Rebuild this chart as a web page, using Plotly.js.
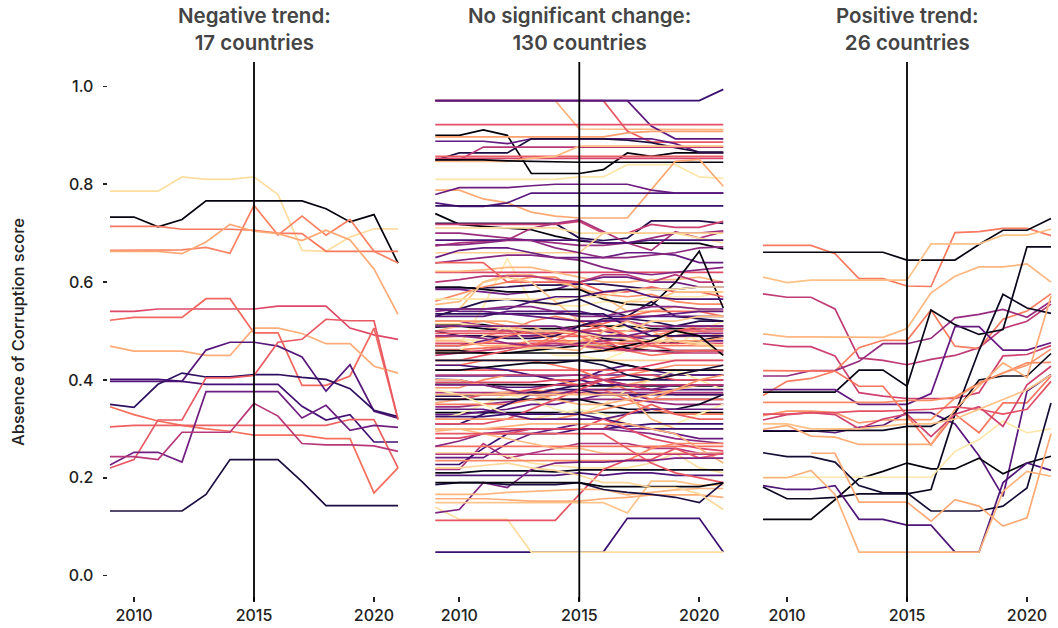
<!DOCTYPE html>
<html><head><meta charset="utf-8">
<script src="https://cdn.plot.ly/plotly-3.0.1.min.js"></script>
<style>html,body{margin:0;padding:0;background:#fff}#chart{width:1058px;height:628px}</style>
</head><body><div id="chart"></div>
<script>
const years = [2009,2010,2011,2012,2013,2014,2015,2016,2017,2018,2019,2020,2021];
const panelTitles = ['Negative trend:<br>17 countries','No significant change:<br>130 countries','Positive trend:<br>26 countries'];
const yAxisTitle = 'Absence of Corruption score';
const yTickValues = [0,0.2,0.4,0.6,0.8,1.0];
const yTickLabels = ['0.0','0.2','0.4','0.6','0.8','1.0'];
const xTickValues = [2010,2015,2020];
const breakYear = 2015;

// ---- Negative trend (17 countries)
const negativeSeries = [
[0.786,0.786,0.786,0.815,0.810,0.810,0.815,0.779,0.665,0.663,0.692,0.709,0.709],
[0.733,0.733,0.713,0.728,0.766,0.766,0.766,0.766,0.766,0.750,0.723,0.738,0.639],
[0.714,0.714,0.714,0.708,0.708,0.708,0.706,0.700,0.699,0.663,0.663,0.663,0.663],
[0.665,0.665,0.665,0.666,0.671,0.659,0.757,0.696,0.735,0.696,0.728,0.663,0.639],
[0.663,0.663,0.663,0.658,0.682,0.718,0.704,0.699,0.685,0.706,0.686,0.627,0.534],
[0.540,0.540,0.545,0.545,0.545,0.545,0.545,0.551,0.551,0.551,0.506,0.492,0.483],
[0.522,0.528,0.528,0.528,0.566,0.566,0.496,0.496,0.389,0.389,0.408,0.506,0.319],
[0.469,0.459,0.459,0.459,0.450,0.450,0.506,0.506,0.495,0.474,0.474,0.428,0.414],
[0.397,0.397,0.397,0.397,0.461,0.477,0.477,0.469,0.447,0.377,0.431,0.336,0.322],
[0.350,0.344,0.391,0.414,0.406,0.406,0.411,0.411,0.405,0.401,0.382,0.338,0.325],
[0.401,0.401,0.401,0.397,0.391,0.391,0.391,0.391,0.346,0.318,0.329,0.273,0.273],
[0.345,0.329,0.316,0.307,0.300,0.295,0.287,0.287,0.287,0.280,0.280,0.169,0.220],
[0.304,0.307,0.307,0.307,0.307,0.307,0.307,0.307,0.307,0.307,0.319,0.319,0.220],
[0.220,0.237,0.318,0.318,0.404,0.404,0.409,0.477,0.483,0.524,0.521,0.521,0.319],
[0.226,0.252,0.252,0.232,0.376,0.376,0.376,0.376,0.322,0.348,0.297,0.307,0.303],
[0.243,0.243,0.237,0.293,0.293,0.293,0.352,0.326,0.270,0.267,0.267,0.265,0.254],
[0.132,0.132,0.132,0.132,0.166,0.237,0.237,0.237,0.192,0.143,0.143,0.143,0.143]
];
const negativeShades = [0.93,0.02,0.72,0.74,0.82,0.60,0.68,0.83,0.27,0.17,0.22,0.70,0.66,0.64,0.33,0.50,0.12];

// ---- No significant change (130 countries), split by level band
const stableTop = [
[0.971,0.971,0.971,0.971,0.971,0.971,0.913,0.913,0.913,0.912,0.912,0.912,0.912],
[0.971,0.971,0.971,0.971,0.971,0.971,0.971,0.971,0.909,0.886,0.886,0.886,0.886],
[0.971,0.971,0.971,0.971,0.971,0.971,0.971,0.971,0.971,0.971,0.971,0.971,0.994],
[0.971,0.971,0.971,0.971,0.971,0.971,0.971,0.971,0.971,0.919,0.893,0.893,0.893],
[0.922,0.922,0.922,0.922,0.922,0.922,0.922,0.922,0.922,0.922,0.922,0.922,0.922],
[0.900,0.900,0.911,0.900,0.822,0.822,0.822,0.830,0.864,0.857,0.864,0.864,0.864],
[0.897,0.897,0.897,0.897,0.897,0.897,0.897,0.897,0.905,0.908,0.908,0.908,0.908],
[0.888,0.888,0.888,0.883,0.893,0.893,0.893,0.893,0.893,0.893,0.883,0.865,0.865],
[0.849,0.864,0.864,0.864,0.893,0.893,0.893,0.893,0.890,0.885,0.875,0.866,0.866],
[0.850,0.850,0.876,0.876,0.876,0.876,0.876,0.876,0.876,0.876,0.876,0.876,0.876],
[0.857,0.857,0.857,0.857,0.857,0.857,0.857,0.857,0.857,0.857,0.857,0.857,0.857],
[0.853,0.853,0.853,0.853,0.853,0.853,0.853,0.853,0.853,0.853,0.853,0.853,0.853],
[0.847,0.847,0.847,0.847,0.853,0.857,0.878,0.878,0.878,0.878,0.878,0.878,0.878],
[0.850,0.850,0.850,0.848,0.847,0.845,0.845,0.845,0.845,0.845,0.845,0.845,0.845]
];
const stableTopShades = [0.84,0.64,0.20,0.28,0.62,0.01,0.80,0.30,0.12,0.50,0.65,0.58,0.86,0.02];

const stableUpper = [
[0.810,0.810,0.810,0.810,0.810,0.810,0.815,0.815,0.840,0.840,0.840,0.815,0.812],
[0.788,0.788,0.770,0.762,0.743,0.735,0.731,0.731,0.731,0.789,0.847,0.851,0.796],
[0.779,0.793,0.793,0.793,0.797,0.800,0.800,0.800,0.800,0.788,0.782,0.782,0.782],
[0.762,0.755,0.755,0.762,0.782,0.782,0.782,0.782,0.782,0.782,0.782,0.782,0.782],
[0.756,0.756,0.756,0.756,0.756,0.756,0.756,0.756,0.756,0.756,0.756,0.756,0.756],
[0.740,0.718,0.714,0.711,0.707,0.694,0.684,0.680,0.680,0.679,0.679,0.679,0.668],
[0.720,0.720,0.720,0.720,0.720,0.720,0.690,0.685,0.690,0.725,0.725,0.725,0.720],
[0.718,0.718,0.718,0.718,0.718,0.718,0.724,0.700,0.700,0.718,0.712,0.712,0.724],
[0.674,0.680,0.683,0.686,0.710,0.720,0.727,0.703,0.680,0.665,0.703,0.690,0.703],
[0.711,0.711,0.711,0.711,0.711,0.711,0.700,0.700,0.700,0.700,0.700,0.690,0.680],
[0.700,0.700,0.695,0.690,0.685,0.680,0.675,0.675,0.680,0.690,0.700,0.700,0.705],
[0.686,0.686,0.686,0.686,0.686,0.686,0.686,0.680,0.680,0.686,0.686,0.686,0.686],
[0.660,0.660,0.660,0.660,0.660,0.660,0.660,0.700,0.700,0.700,0.700,0.700,0.700],
[0.650,0.665,0.670,0.670,0.660,0.650,0.650,0.650,0.660,0.660,0.655,0.640,0.640],
[0.676,0.676,0.680,0.685,0.685,0.670,0.660,0.650,0.650,0.655,0.660,0.670,0.672]
];
const stableUpperShades = [0.95,0.82,0.32,0.26,0.18,0.02,0.14,0.55,0.47,0.93,0.43,0.24,0.90,0.30,0.40];

const stableMiddle = [
[0.470,0.470,0.550,0.648,0.558,0.553,0.551,0.560,0.560,0.570,0.570,0.570,0.580],
[0.620,0.620,0.620,0.620,0.620,0.620,0.620,0.620,0.620,0.620,0.620,0.620,0.620],
[0.622,0.622,0.625,0.630,0.630,0.620,0.610,0.600,0.600,0.605,0.605,0.610,0.600],
[0.588,0.588,0.588,0.590,0.594,0.594,0.596,0.596,0.590,0.585,0.585,0.590,0.590],
[0.585,0.585,0.580,0.575,0.580,0.585,0.600,0.610,0.610,0.600,0.600,0.590,0.590],
[0.561,0.575,0.590,0.600,0.610,0.610,0.585,0.575,0.570,0.575,0.560,0.555,0.555],
[0.554,0.560,0.600,0.615,0.615,0.600,0.590,0.570,0.540,0.540,0.550,0.545,0.540],
[0.639,0.645,0.650,0.655,0.655,0.650,0.645,0.630,0.620,0.615,0.620,0.625,0.630],
[0.590,0.590,0.585,0.580,0.580,0.585,0.585,0.565,0.555,0.552,0.599,0.663,0.547],
[0.600,0.605,0.612,0.612,0.612,0.605,0.600,0.615,0.615,0.600,0.615,0.600,0.600],
[0.640,0.640,0.640,0.600,0.600,0.600,0.600,0.580,0.580,0.590,0.580,0.580,0.570],
[0.530,0.545,0.600,0.610,0.600,0.560,0.520,0.520,0.560,0.560,0.580,0.580,0.580],
[0.530,0.545,0.560,0.565,0.560,0.555,0.565,0.545,0.530,0.560,0.530,0.525,0.520],
[0.565,0.565,0.565,0.565,0.565,0.565,0.570,0.570,0.585,0.585,0.585,0.590,0.590],
[0.545,0.545,0.545,0.545,0.560,0.570,0.570,0.580,0.585,0.570,0.565,0.565,0.565]
];
const stableMiddleShades = [0.96,0.60,0.85,0.15,0.32,0.76,0.86,0.38,0.03,0.50,0.67,0.88,0.13,0.94,0.24];

const stableCentre = [
[0.513,0.513,0.513,0.505,0.505,0.505,0.510,0.510,0.510,0.505,0.505,0.505,0.505],
[0.508,0.510,0.505,0.500,0.495,0.495,0.500,0.485,0.480,0.480,0.475,0.480,0.490],
[0.530,0.530,0.530,0.540,0.540,0.540,0.540,0.530,0.530,0.530,0.530,0.530,0.530],
[0.489,0.489,0.489,0.489,0.489,0.489,0.489,0.489,0.489,0.489,0.489,0.489,0.489],
[0.486,0.490,0.490,0.500,0.520,0.530,0.520,0.500,0.490,0.490,0.500,0.510,0.510],
[0.483,0.483,0.480,0.470,0.460,0.470,0.480,0.500,0.510,0.490,0.470,0.500,0.520],
[0.475,0.475,0.475,0.475,0.475,0.475,0.475,0.475,0.475,0.475,0.475,0.475,0.475],
[0.470,0.470,0.480,0.490,0.490,0.495,0.500,0.500,0.490,0.480,0.480,0.480,0.480],
[0.462,0.462,0.465,0.470,0.470,0.490,0.510,0.515,0.530,0.540,0.540,0.540,0.530],
[0.500,0.510,0.520,0.520,0.510,0.490,0.470,0.460,0.460,0.470,0.490,0.500,0.490],
[0.520,0.520,0.510,0.500,0.500,0.500,0.510,0.520,0.520,0.510,0.510,0.510,0.510],
[0.500,0.490,0.490,0.485,0.485,0.490,0.510,0.525,0.525,0.520,0.510,0.520,0.520],
[0.455,0.455,0.460,0.470,0.480,0.480,0.480,0.480,0.470,0.470,0.470,0.470,0.470],
[0.450,0.460,0.490,0.510,0.470,0.450,0.450,0.440,0.460,0.480,0.500,0.480,0.450],
[0.540,0.545,0.545,0.550,0.550,0.540,0.530,0.530,0.540,0.550,0.550,0.545,0.545],
[0.495,0.495,0.495,0.495,0.495,0.495,0.500,0.500,0.500,0.500,0.500,0.500,0.500],
[0.460,0.460,0.460,0.465,0.470,0.470,0.480,0.490,0.500,0.520,0.520,0.530,0.530],
[0.460,0.460,0.455,0.455,0.460,0.465,0.470,0.470,0.465,0.460,0.460,0.460,0.460],
[0.490,0.490,0.485,0.475,0.470,0.470,0.475,0.480,0.485,0.490,0.490,0.495,0.495],
[0.470,0.470,0.475,0.490,0.500,0.500,0.490,0.470,0.460,0.450,0.455,0.460,0.460],
[0.535,0.535,0.535,0.535,0.535,0.535,0.535,0.535,0.510,0.490,0.490,0.490,0.490],
[0.520,0.520,0.520,0.510,0.500,0.480,0.470,0.470,0.480,0.480,0.480,0.480,0.485],
[0.500,0.500,0.500,0.500,0.500,0.500,0.500,0.480,0.460,0.480,0.500,0.505,0.505],
[0.515,0.515,0.510,0.505,0.500,0.500,0.495,0.490,0.485,0.480,0.480,0.475,0.470],
[0.450,0.455,0.460,0.465,0.470,0.475,0.470,0.465,0.460,0.460,0.455,0.455,0.455],
[0.545,0.540,0.540,0.535,0.530,0.525,0.520,0.520,0.525,0.530,0.535,0.540,0.540],
[0.480,0.480,0.470,0.470,0.465,0.465,0.460,0.500,0.520,0.500,0.480,0.470,0.470],
[0.455,0.455,0.455,0.455,0.455,0.455,0.455,0.460,0.470,0.480,0.500,0.490,0.450],
[0.440,0.440,0.450,0.460,0.470,0.480,0.500,0.510,0.490,0.470,0.460,0.460,0.460],
[0.510,0.510,0.510,0.510,0.510,0.510,0.500,0.490,0.490,0.500,0.510,0.510,0.510]
];
const stableCentreShades = [0.02,0.05,0.28,0.66,0.74,0.95,0.60,0.30,0.70,0.84,0.45,0.14,0.72,0.97,0.38,0.63,0.88,0.04,0.40,0.71,0.17,0.79,0.61,0.93,0.52,0.30,0.85,0.01,0.64,0.35];

const stableLower = [
[0.408,0.408,0.408,0.408,0.408,0.408,0.410,0.410,0.410,0.410,0.410,0.410,0.410],
[0.401,0.400,0.390,0.385,0.385,0.390,0.400,0.420,0.430,0.420,0.410,0.410,0.410],
[0.391,0.391,0.390,0.390,0.390,0.390,0.388,0.388,0.388,0.388,0.388,0.388,0.388],
[0.384,0.384,0.400,0.410,0.410,0.400,0.390,0.400,0.410,0.420,0.430,0.430,0.430],
[0.374,0.374,0.374,0.374,0.374,0.374,0.374,0.374,0.374,0.374,0.374,0.374,0.374],
[0.367,0.367,0.370,0.370,0.375,0.380,0.390,0.400,0.400,0.400,0.400,0.400,0.400],
[0.353,0.360,0.370,0.375,0.380,0.375,0.370,0.380,0.390,0.400,0.410,0.420,0.420],
[0.333,0.333,0.333,0.333,0.333,0.333,0.333,0.333,0.333,0.333,0.333,0.333,0.333],
[0.329,0.329,0.335,0.340,0.350,0.350,0.360,0.370,0.370,0.360,0.360,0.360,0.360],
[0.319,0.330,0.350,0.370,0.360,0.340,0.330,0.350,0.380,0.400,0.420,0.400,0.380],
[0.420,0.420,0.420,0.420,0.420,0.420,0.420,0.420,0.420,0.420,0.420,0.420,0.420],
[0.430,0.430,0.440,0.440,0.440,0.430,0.420,0.400,0.380,0.360,0.360,0.360,0.360],
[0.440,0.440,0.440,0.440,0.440,0.440,0.440,0.440,0.440,0.440,0.440,0.440,0.440],
[0.430,0.430,0.425,0.420,0.410,0.400,0.400,0.390,0.390,0.380,0.380,0.380,0.380],
[0.360,0.360,0.370,0.370,0.380,0.390,0.390,0.400,0.390,0.380,0.370,0.370,0.370],
[0.345,0.345,0.350,0.355,0.360,0.360,0.360,0.360,0.360,0.355,0.350,0.350,0.350],
[0.360,0.360,0.360,0.360,0.360,0.360,0.360,0.350,0.340,0.340,0.340,0.350,0.370],
[0.350,0.350,0.350,0.350,0.360,0.370,0.380,0.380,0.360,0.340,0.330,0.330,0.330],
[0.310,0.310,0.330,0.350,0.370,0.380,0.380,0.370,0.370,0.370,0.370,0.370,0.370],
[0.400,0.400,0.390,0.380,0.370,0.360,0.350,0.350,0.360,0.370,0.380,0.390,0.390],
[0.390,0.390,0.390,0.380,0.370,0.370,0.380,0.380,0.380,0.380,0.390,0.390,0.390],
[0.310,0.310,0.310,0.320,0.340,0.360,0.380,0.400,0.410,0.410,0.400,0.400,0.400],
[0.380,0.370,0.350,0.330,0.320,0.330,0.340,0.330,0.310,0.300,0.310,0.330,0.350],
[0.410,0.410,0.410,0.410,0.410,0.410,0.410,0.400,0.390,0.390,0.390,0.390,0.390],
[0.320,0.320,0.320,0.320,0.320,0.320,0.330,0.340,0.350,0.360,0.380,0.400,0.410],
[0.340,0.340,0.340,0.330,0.320,0.320,0.320,0.320,0.330,0.340,0.340,0.340,0.340],
[0.420,0.420,0.425,0.430,0.435,0.435,0.440,0.440,0.430,0.420,0.420,0.420,0.420],
[0.370,0.370,0.370,0.370,0.370,0.370,0.370,0.370,0.370,0.320,0.300,0.300,0.300],
[0.300,0.300,0.300,0.300,0.300,0.300,0.300,0.300,0.330,0.350,0.330,0.320,0.320],
[0.440,0.440,0.440,0.440,0.440,0.440,0.440,0.430,0.410,0.400,0.410,0.420,0.430],
[0.395,0.395,0.395,0.395,0.395,0.400,0.400,0.410,0.420,0.430,0.440,0.440,0.440],
[0.325,0.325,0.325,0.330,0.330,0.330,0.330,0.320,0.310,0.300,0.300,0.300,0.300]
];
const stableLowerShades = [0.27,0.25,0.03,0.77,0.47,0.16,0.83,0.02,0.30,0.96,0.65,0.71,0.90,0.24,0.58,0.42,0.06,0.72,0.18,0.85,0.35,0.62,0.97,0.50,0.78,0.29,0.04,0.86,0.66,0.10,0.60,0.20];

const stableBottom = [
[0.217,0.217,0.270,0.240,0.250,0.260,0.270,0.270,0.270,0.260,0.260,0.250,0.250],
[0.241,0.241,0.241,0.270,0.290,0.300,0.310,0.310,0.300,0.300,0.290,0.280,0.280],
[0.227,0.227,0.260,0.290,0.290,0.290,0.300,0.300,0.305,0.310,0.310,0.310,0.310],
[0.251,0.251,0.251,0.245,0.230,0.225,0.220,0.220,0.220,0.230,0.250,0.220,0.210],
[0.264,0.264,0.264,0.264,0.264,0.264,0.264,0.264,0.264,0.264,0.264,0.264,0.264],
[0.264,0.275,0.290,0.295,0.300,0.300,0.300,0.300,0.295,0.290,0.280,0.275,0.270],
[0.281,0.281,0.290,0.290,0.300,0.300,0.300,0.320,0.300,0.280,0.270,0.260,0.255],
[0.295,0.300,0.300,0.305,0.310,0.310,0.310,0.310,0.310,0.300,0.290,0.260,0.230],
[0.210,0.210,0.214,0.214,0.214,0.212,0.216,0.216,0.216,0.216,0.216,0.216,0.216],
[0.205,0.205,0.205,0.205,0.205,0.205,0.210,0.205,0.210,0.210,0.205,0.205,0.205],
[0.235,0.235,0.235,0.235,0.235,0.235,0.235,0.235,0.235,0.260,0.270,0.270,0.270],
[0.300,0.300,0.290,0.280,0.270,0.260,0.260,0.250,0.250,0.250,0.250,0.250,0.250],
[0.248,0.248,0.248,0.248,0.248,0.248,0.248,0.248,0.248,0.248,0.248,0.248,0.248],
[0.290,0.290,0.290,0.290,0.290,0.290,0.290,0.290,0.260,0.230,0.210,0.200,0.190],
[0.048,0.048,0.048,0.048,0.048,0.048,0.048,0.048,0.117,0.117,0.117,0.117,0.048],
[0.140,0.115,0.115,0.115,0.048,0.048,0.048,0.048,0.048,0.048,0.048,0.048,0.048],
[0.113,0.113,0.113,0.113,0.113,0.113,0.166,0.217,0.237,0.237,0.260,0.240,0.250],
[0.128,0.135,0.190,0.180,0.217,0.230,0.232,0.232,0.235,0.235,0.240,0.240,0.240],
[0.166,0.166,0.166,0.170,0.172,0.174,0.176,0.176,0.165,0.170,0.175,0.178,0.178],
[0.149,0.149,0.149,0.149,0.149,0.149,0.149,0.149,0.128,0.193,0.193,0.185,0.185],
[0.157,0.157,0.157,0.155,0.152,0.152,0.152,0.157,0.160,0.165,0.165,0.165,0.160],
[0.186,0.190,0.190,0.186,0.186,0.186,0.190,0.176,0.170,0.166,0.160,0.149,0.190],
[0.190,0.190,0.190,0.190,0.190,0.190,0.190,0.182,0.182,0.182,0.182,0.182,0.190],
[0.220,0.220,0.225,0.230,0.220,0.215,0.205,0.190,0.190,0.180,0.180,0.167,0.135]
];
const stableBottomShades = [0.48,0.30,0.20,0.94,0.70,0.40,0.60,0.84,0.04,0.25,0.75,0.86,0.50,0.64,0.20,0.93,0.63,0.36,0.85,0.88,0.83,0.12,0.02,0.92];

// ---- Positive trend (26 countries)
const positiveSeries = [
[0.675,0.675,0.675,0.658,0.607,0.607,0.592,0.591,0.701,0.703,0.710,0.710,0.695],
[0.661,0.661,0.661,0.661,0.661,0.661,0.645,0.645,0.645,0.677,0.706,0.706,0.730],
[0.610,0.599,0.604,0.604,0.604,0.604,0.604,0.678,0.678,0.678,0.696,0.696,0.708],
[0.576,0.569,0.569,0.545,0.445,0.440,0.431,0.442,0.450,0.466,0.505,0.520,0.555],
[0.494,0.488,0.488,0.488,0.487,0.487,0.505,0.578,0.612,0.631,0.631,0.637,0.600],
[0.474,0.468,0.468,0.449,0.374,0.367,0.362,0.362,0.362,0.374,0.449,0.452,0.470],
[0.368,0.397,0.403,0.418,0.466,0.481,0.481,0.543,0.469,0.464,0.524,0.541,0.576],
[0.408,0.408,0.419,0.419,0.438,0.474,0.474,0.485,0.527,0.534,0.544,0.528,0.561],
[0.375,0.375,0.375,0.375,0.420,0.420,0.387,0.543,0.513,0.493,0.503,0.672,0.672],
[0.380,0.380,0.380,0.380,0.350,0.350,0.350,0.372,0.509,0.509,0.461,0.461,0.476],
[0.419,0.419,0.419,0.418,0.387,0.387,0.327,0.267,0.330,0.292,0.353,0.353,0.408],
[0.354,0.354,0.354,0.354,0.354,0.354,0.358,0.358,0.365,0.394,0.414,0.435,0.436],
[0.296,0.296,0.296,0.292,0.303,0.307,0.333,0.333,0.310,0.245,0.162,0.377,0.411],
[0.295,0.295,0.295,0.297,0.297,0.297,0.305,0.305,0.333,0.400,0.408,0.408,0.454],
[0.115,0.115,0.115,0.155,0.198,0.213,0.230,0.218,0.218,0.240,0.208,0.230,0.244],
[0.181,0.157,0.157,0.160,0.167,0.167,0.167,0.176,0.330,0.460,0.575,0.547,0.536],
[0.184,0.176,0.176,0.184,0.115,0.115,0.103,0.103,0.048,0.048,0.190,0.230,0.215],
[0.201,0.201,0.201,0.201,0.201,0.201,0.201,0.201,0.254,0.278,0.316,0.292,0.300],
[0.251,0.243,0.243,0.232,0.184,0.169,0.169,0.132,0.132,0.132,0.142,0.179,0.353],
[null,null,0.250,0.250,0.150,0.150,0.150,0.111,0.155,0.142,0.101,0.118,0.290],
[0.200,0.200,0.215,0.166,0.048,0.048,0.048,0.048,0.048,0.048,0.172,0.213,0.203],
[0.299,0.307,0.285,0.283,0.268,0.268,0.268,0.268,0.340,0.387,0.435,0.405,0.571],
[0.327,0.336,0.336,0.333,0.312,0.318,0.319,0.319,0.363,0.392,0.414,0.430,0.463],
[0.318,0.329,0.333,0.329,0.300,0.320,0.330,0.284,0.330,0.345,0.305,0.390,0.428],
[0.330,0.330,0.333,0.333,0.336,0.336,0.338,0.340,0.345,0.340,0.330,0.340,0.397],
[0.310,0.310,0.300,0.300,0.300,0.305,0.310,0.310,0.320,0.340,0.360,0.380,0.410]
];
const positiveShades = [0.72,0.03,0.87,0.52,0.85,0.56,0.73,0.42,0.04,0.30,0.71,0.76,0.27,0.05,0.02,0.06,0.25,0.95,0.10,0.82,0.84,0.83,0.78,0.56,0.62,0.87];

// magma colormap stops
const magmaStops = ['#000004','#140e36','#3b0f70','#641a80','#8c2981','#b73779','#de4968','#f7705c','#fe9f6d','#fecf92','#fcfdbf'];
function hexToRgb(h){return [parseInt(h.slice(1,3),16),parseInt(h.slice(3,5),16),parseInt(h.slice(5,7),16)];}
function magma(t){
  t=Math.max(0,Math.min(1,t));
  const s=t*(magmaStops.length-1), i=Math.min(Math.floor(s),magmaStops.length-2), f=s-i;
  const a=hexToRgb(magmaStops[i]), b=hexToRgb(magmaStops[i+1]);
  return 'rgb('+a.map((v,k)=>Math.round(v+(b[k]-v)*f)).join(',')+')';
}

const panels = [
  {groups:[[negativeSeries,negativeShades]], xa:'x', ya:'y'},
  {groups:[[stableTop,stableTopShades],[stableUpper,stableUpperShades],[stableMiddle,stableMiddleShades],[stableCentre,stableCentreShades],[stableLower,stableLowerShades],[stableBottom,stableBottomShades]], xa:'x2', ya:'y2'},
  {groups:[[positiveSeries,positiveShades]], xa:'x3', ya:'y3'}
];

const traces=[];
panels.forEach(p=>{
  p.groups.forEach(([series,shades])=>{
    series.forEach((vals,i)=>{
      traces.push({type:'scatter',mode:'lines',x:years,y:vals,xaxis:p.xa,yaxis:p.ya,
        line:{color:magma(shades[i]),width:1.7},hoverinfo:'skip',connectgaps:false,showlegend:false});
    });
  });
});

const W=1058,H=628;
const pxPerUnit=538/1.1;
const plotBottomPx=596;
const yLow=-0.05+(600-plotBottomPx)/pxPerUnit;
const xDomains=[[107.6/W,400.4/W],[432.9/W,725.7/W],[760.6/W,1053.4/W]];
const yDomain=[(H-plotBottomPx)/H,(H-62)/H];
const fontFamily='Inter, "Open Sans", sans-serif';
const tickFont={family:fontFamily,size:16,color:'#222',weight:500};

function xAxis(d){return {domain:d,range:[2008.9,2021.1],tickvals:xTickValues,ticktext:xTickValues.map(String),
  ticks:'outside',ticklen:5,tickwidth:1.6,tickcolor:'#222',showgrid:false,zeroline:false,showline:false,
  tickfont:tickFont,fixedrange:true};}
function yAxis(show,anchor){return {domain:yDomain,range:[yLow,1.05],anchor:anchor,
  tickvals:show?yTickValues:[],ticktext:show?yTickLabels:[],ticks:show?'outside':'',ticklen:4,tickwidth:1.6,tickcolor:'#222',
  ticklabelstandoff:6,showticklabels:show,showgrid:false,zeroline:false,showline:false,tickfont:tickFont,fixedrange:true};}

const layout={
  width:W,height:H,margin:{l:0,r:0,t:0,b:0},paper_bgcolor:'#fff',plot_bgcolor:'rgba(0,0,0,0)',showlegend:false,
  xaxis:Object.assign(xAxis(xDomains[0]),{anchor:'y'}),
  xaxis2:Object.assign(xAxis(xDomains[1]),{anchor:'y2'}),
  xaxis3:Object.assign(xAxis(xDomains[2]),{anchor:'y3'}),
  yaxis:yAxis(true,'x'),yaxis2:yAxis(false,'x2'),yaxis3:yAxis(false,'x3'),
  shapes:['x','x2','x3'].map(xr=>({type:'line',xref:xr,yref:'paper',x0:breakYear,x1:breakYear,y0:(H-601)/H,y1:(H-62)/H,
    line:{color:'#000',width:1.8},layer:'above'})),
  annotations:[
    ...['x','x2','x3'].map((xr,i)=>({xref:xr,yref:'paper',x:breakYear,y:(H-57)/H,xanchor:'center',yanchor:'bottom',
      text:panelTitles[i],showarrow:false,align:'center',font:{family:fontFamily,size:20.5,color:'#444',weight:600}})),
    {xref:'paper',yref:'paper',x:18/W,y:(H-332)/H,xanchor:'center',yanchor:'middle',textangle:-90,text:yAxisTitle,showarrow:false,
      font:{family:fontFamily,size:16.5,color:'#222',weight:500}}
  ]
};
Plotly.newPlot('chart',traces,layout,{displayModeBar:false,staticPlot:true});
</script></body></html>
